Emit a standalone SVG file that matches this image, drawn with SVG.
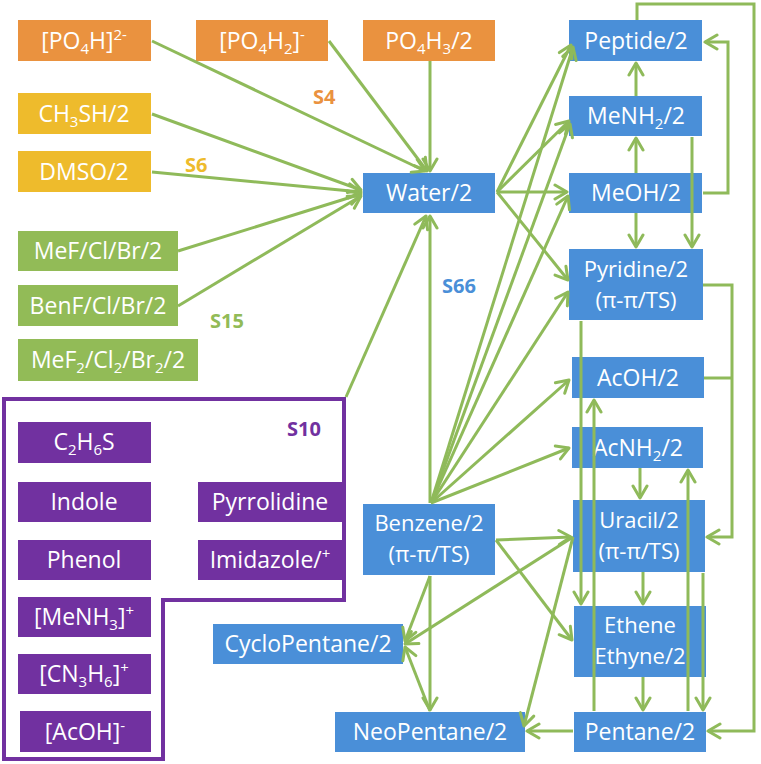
<svg xmlns="http://www.w3.org/2000/svg" width="761" height="764" viewBox="0 0 761 764">
<defs>
<marker id="ah" markerUnits="userSpaceOnUse" markerWidth="18" markerHeight="18" viewBox="0 0 18 18" refX="15" refY="9" orient="auto">
<path d="M3,2 L15,9 L3,16" fill="none" stroke="#8FBA5A" stroke-width="3" stroke-linecap="round" stroke-linejoin="round"/>
</marker>
<style>
text{font-family:"Open Sans","Liberation Sans",sans-serif;font-size:23px;fill:#fff;text-anchor:middle}
.t2{font-size:22px}
.o{fill:#EA923F}.y{fill:#EEBB2C}.g{fill:#92BB57}.p{fill:#7131A0}.b{fill:#4A8FD8}
.s{font-size:15px}
.lab{font-size:20px;font-weight:bold;text-anchor:start}
#conn path{fill:none;stroke:#8FBA5A;stroke-width:3}
.ar{marker-end:url(#ah)}
</style>
</defs>
<rect width="761" height="764" fill="#fff"/>
<polygon points="4,399 344,399 344,600 163,600 163,759 4,759" fill="none" stroke="#7131A0" stroke-width="4"/>
<g id="n-po4h"><rect class="o" x="18" y="20" width="133" height="41"/><text x="84" y="49">[PO<tspan class="s" dy="5">4</tspan><tspan dy="-5">H]</tspan><tspan class="s" dy="-9">2-</tspan></text></g>
<g id="n-po4h2"><rect class="o" x="196" y="20" width="132" height="41"/><text x="262" y="49">[PO<tspan class="s" dy="5">4</tspan><tspan dy="-5">H</tspan><tspan class="s" dy="5">2</tspan><tspan dy="-5">]</tspan><tspan class="s" dy="-9">-</tspan></text></g>
<g id="n-po4h3"><rect class="o" x="363" y="20" width="132" height="41"/><text x="429" y="49">PO<tspan class="s" dy="5">4</tspan><tspan dy="-5">H</tspan><tspan class="s" dy="5">3</tspan><tspan dy="-5">/2</tspan></text></g>
<g id="n-ch3sh"><rect class="y" x="18" y="93" width="133" height="41"/><text x="84" y="122">CH<tspan class="s" dy="5">3</tspan><tspan dy="-5">SH/2</tspan></text></g>
<g id="n-dmso"><rect class="y" x="18" y="151" width="133" height="41"/><text x="84" y="180">DMSO/2</text></g>
<g id="n-mef"><rect class="g" x="18" y="231" width="160" height="40"/><text x="98" y="259">MeF/Cl/Br/2</text></g>
<g id="n-benf"><rect class="g" x="18" y="285" width="160" height="41"/><text x="98" y="314">BenF/Cl/Br/2</text></g>
<g id="n-mef2"><rect class="g" x="18" y="339" width="180" height="42"/><text x="108" y="368">MeF<tspan class="s" dy="5">2</tspan><tspan dy="-5">/Cl</tspan><tspan class="s" dy="5">2</tspan><tspan dy="-5">/Br</tspan><tspan class="s" dy="5">2</tspan><tspan dy="-5">/2</tspan></text></g>
<g id="n-c2h6s"><rect class="p" x="18" y="422" width="133" height="41"/><text x="84" y="450">C<tspan class="s" dy="5">2</tspan><tspan dy="-5">H</tspan><tspan class="s" dy="5">6</tspan><tspan dy="-5">S</tspan></text></g>
<g id="n-indole"><rect class="p" x="18" y="482" width="133" height="40"/><text x="84" y="510">Indole</text></g>
<g id="n-phenol"><rect class="p" x="18" y="540" width="133" height="40"/><text x="84" y="568">Phenol</text></g>
<g id="n-menh3"><rect class="p" x="18" y="597" width="133" height="40"/><text x="84" y="625">[MeNH<tspan class="s" dy="5">3</tspan><tspan dy="-5">]</tspan><tspan class="s" dy="-9">+</tspan></text></g>
<g id="n-cn3h6"><rect class="p" x="18" y="654" width="133" height="40"/><text x="84" y="682">[CN<tspan class="s" dy="5">3</tspan><tspan dy="-5">H</tspan><tspan class="s" dy="5">6</tspan><tspan dy="-5">]</tspan><tspan class="s" dy="-9">+</tspan></text></g>
<g id="n-acoh-"><rect class="p" x="20" y="711" width="131" height="41"/><text x="85" y="740">[AcOH]<tspan class="s" dy="-9">-</tspan></text></g>
<g id="n-pyrrolidine"><rect class="p" x="198" y="482" width="144" height="40"/><text x="270" y="510">Pyrrolidine</text></g>
<g id="n-imidazole"><rect class="p" x="198" y="540" width="144" height="40"/><text x="270" y="568">Imidazole/<tspan class="s" dy="-9">+</tspan></text></g>
<g id="n-water"><rect class="b" x="363" y="173" width="132" height="40"/><text x="429" y="201">Water/2</text></g>
<g id="n-benzene"><rect class="b" x="363" y="504" width="132" height="71"/><text class="t2" x="429" y="531">Benzene/2</text><text class="t2" x="429" y="562">(π-π/TS)</text></g>
<g id="n-cyclopentane"><rect class="b" x="213" y="624" width="190" height="40"/><text x="308" y="652">CycloPentane/2</text></g>
<g id="n-neopentane"><rect class="b" x="335" y="712" width="190" height="40"/><text x="430" y="740">NeoPentane/2</text></g>
<g id="n-peptide"><rect class="b" x="569" y="20" width="133" height="41"/><text x="636" y="49">Peptide/2</text></g>
<g id="n-menh2"><rect class="b" x="569" y="96" width="133" height="40"/><text x="636" y="124">MeNH<tspan class="s" dy="5">2</tspan><tspan dy="-5">/2</tspan></text></g>
<g id="n-meoh"><rect class="b" x="569" y="173" width="133" height="40"/><text x="636" y="201">MeOH/2</text></g>
<g id="n-pyridine"><rect class="b" x="569" y="249" width="134" height="71"/><text class="t2" x="636" y="277">Pyridine/2</text><text class="t2" x="636" y="308">(π-π/TS)</text></g>
<g id="n-acoh"><rect class="b" x="572" y="357" width="132" height="41"/><text x="638" y="386">AcOH/2</text></g>
<g id="n-acnh2"><rect class="b" x="572" y="427" width="131" height="41"/><text x="638" y="456">AcNH<tspan class="s" dy="5">2</tspan><tspan dy="-5">/2</tspan></text></g>
<g id="n-uracil"><rect class="b" x="573" y="500" width="132" height="72"/><text class="t2" x="639" y="528">Uracil/2</text><text class="t2" x="639" y="559">(π-π/TS)</text></g>
<g id="n-ethene"><rect class="b" x="574" y="606" width="132" height="71"/><text class="t2" x="640" y="633">Ethene</text><text class="t2" x="640" y="664">Ethyne/2</text></g>
<g id="n-pentane"><rect class="b" x="574" y="712" width="132" height="40"/><text x="640" y="740">Pentane/2</text></g>
<g id="labels">
<text class="lab" x="313" y="104" style="fill:#EA923F">S4</text>
<text class="lab" x="185" y="172" style="fill:#EEBB2C">S6</text>
<text class="lab" x="210" y="328" style="fill:#92BB57">S15</text>
<text class="lab" x="287" y="436" style="fill:#7131A0">S10</text>
<text class="lab" x="442" y="293" style="fill:#4A8FD8">S66</text>
</g>
<g id="conn">
<path class="ar" d="M152,41 L425,171"/>
<path class="ar" d="M329,41 L427,171"/>
<path class="ar" d="M430,61 L430,171"/>
<path class="ar" d="M152,114 L361,190"/>
<path class="ar" d="M152,172 L361,192"/>
<path class="ar" d="M178,251 L361,194"/>
<path class="ar" d="M178,306 L361,196"/>
<path class="ar" d="M346,397 L426,216"/>
<path class="ar" d="M430,503 L430,216"/>
<path class="ar" d="M497,192 L571,45"/>
<path class="ar" d="M497,192 L569,121"/>
<path class="ar" d="M497,192 L567,192"/>
<path class="ar" d="M497,192 L568,280"/>
<path class="ar" d="M431,503 L573,47"/>
<path class="ar" d="M431,503 L570,124"/>
<path class="ar" d="M431,503 L568,196"/>
<path class="ar" d="M431,503 L568,292"/>
<path class="ar" d="M431,503 L569,380"/>
<path class="ar" d="M431,503 L569,448"/>
<path class="ar" d="M496,540 L571,537"/>
<path class="ar" d="M496,540 L572,640"/>
<path class="ar" d="M573,537 L405,644"/>
<path class="ar" d="M573,537 L524,726"/>
<path class="ar" d="M430,576 L405,641"/>
<path class="ar" d="M430,576 L430,710"/>
<path class="ar" d="M430,711 L405,647"/>
<path class="ar" d="M573,731 L527,731"/>
<path class="ar" d="M636,96 L636,63"/>
<path class="ar" d="M636,173 L636,138"/>
<path class="ar" d="M636,213 L636,247"/>
<path class="ar" d="M692,137 L692,247"/>
<path class="ar" d="M703,193 H728 V42 H705"/>
<path class="ar" d="M637,20 V4 H754 V731 H708"/>
<path class="ar" d="M703,285 H732 V537 H707"/>
<path d="M704,378 H732"/>
<path class="ar" d="M581,321 V604"/>
<path class="ar" d="M594,711 V400"/>
<path class="ar" d="M640,468 V498"/>
<path class="ar" d="M643,572 V604"/>
<path class="ar" d="M643,677 V710"/>
<path class="ar" d="M688,711 V470"/>
<path class="ar" d="M703,573 V710"/>
</g>
</svg>
